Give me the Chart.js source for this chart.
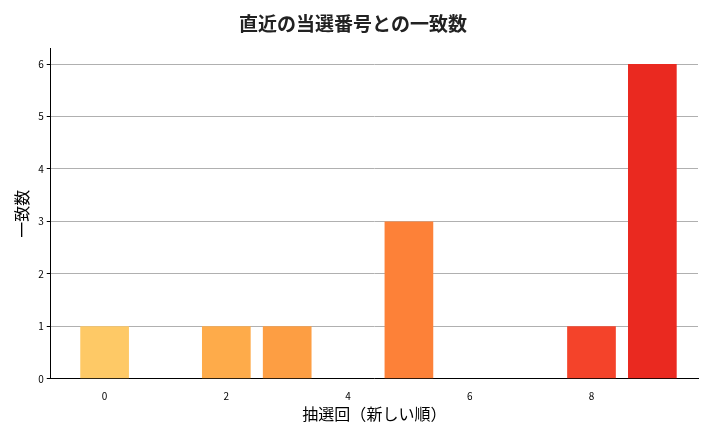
<!DOCTYPE html>
<html><head><meta charset="utf-8">
<script src="https://cdn.jsdelivr.net/npm/chart.js@4/dist/chart.umd.min.js"></script>
<style>body{margin:0;background:#fff}#w{width:720px;height:432px}</style>
</head><body><div id="w"><canvas id="c"></canvas></div>
<script>
const draws = [0,1,2,3,4,5,6,7,8,9];
const matches = [1,0,1,1,0,3,0,0,1,6];
const barColors = ['#fec966','#feb852','#feab4a','#fd9e43','#fd8f3c','#fd8138','#fc6c31','#f9572c','#f4432a','#ea2920'];
const xTicks = [0,2,4,6,8];
const yTicks = [0,1,2,3,4,5,6];
const F = "'Noto Sans CJK JP'";
new Chart(document.getElementById('c'), {
  type: 'bar',
  data: { datasets: [{ data: draws.map((d,i)=>({x:d,y:matches[i]})), backgroundColor: barColors, barPercentage: 0.8, categoryPercentage: 1 }] },
  options: {
    responsive: true, maintainAspectRatio: false, animation: false,
    layout: { padding: { left: 8, right: 22, top: 4, bottom: 4 } },
    plugins: { legend: { display: false }, tooltip: { enabled: false },
      title: { display: true, text: '直近の当選番号との一致数', color: '#222', font: { family: F, size: 19, weight: 'bold' }, padding: { top: 8, bottom: 14 } } },
    scales: {
      x: { type: 'linear', min: -0.885, max: 9.75, offset: false,
        afterBuildTicks: s => { s.ticks = xTicks.map(v=>({value:v})); },
        grid: { display: false, drawTicks: true }, border: { color: '#000' },
        ticks: { color: '#000', font: { family: F, size: 10 } },
        title: { display: true, text: '抽選回（新しい順）', color: '#000', font: { family: F, size: 16 }, padding: { top: 0 } } },
      y: { min: 0, max: 6.29,
        afterBuildTicks: s => { s.ticks = yTicks.map(v=>({value:v})); },
        grid: { color: '#b0b0b0', drawTicks: true, tickColor: '#000', tickLength: 4 }, border: { color: '#000' },
        ticks: { color: '#000', font: { family: F, size: 10 } },
        title: { display: true, text: '一致数', color: '#000', font: { family: F, size: 16 } } }
    }
  }
});
</script></body></html>
